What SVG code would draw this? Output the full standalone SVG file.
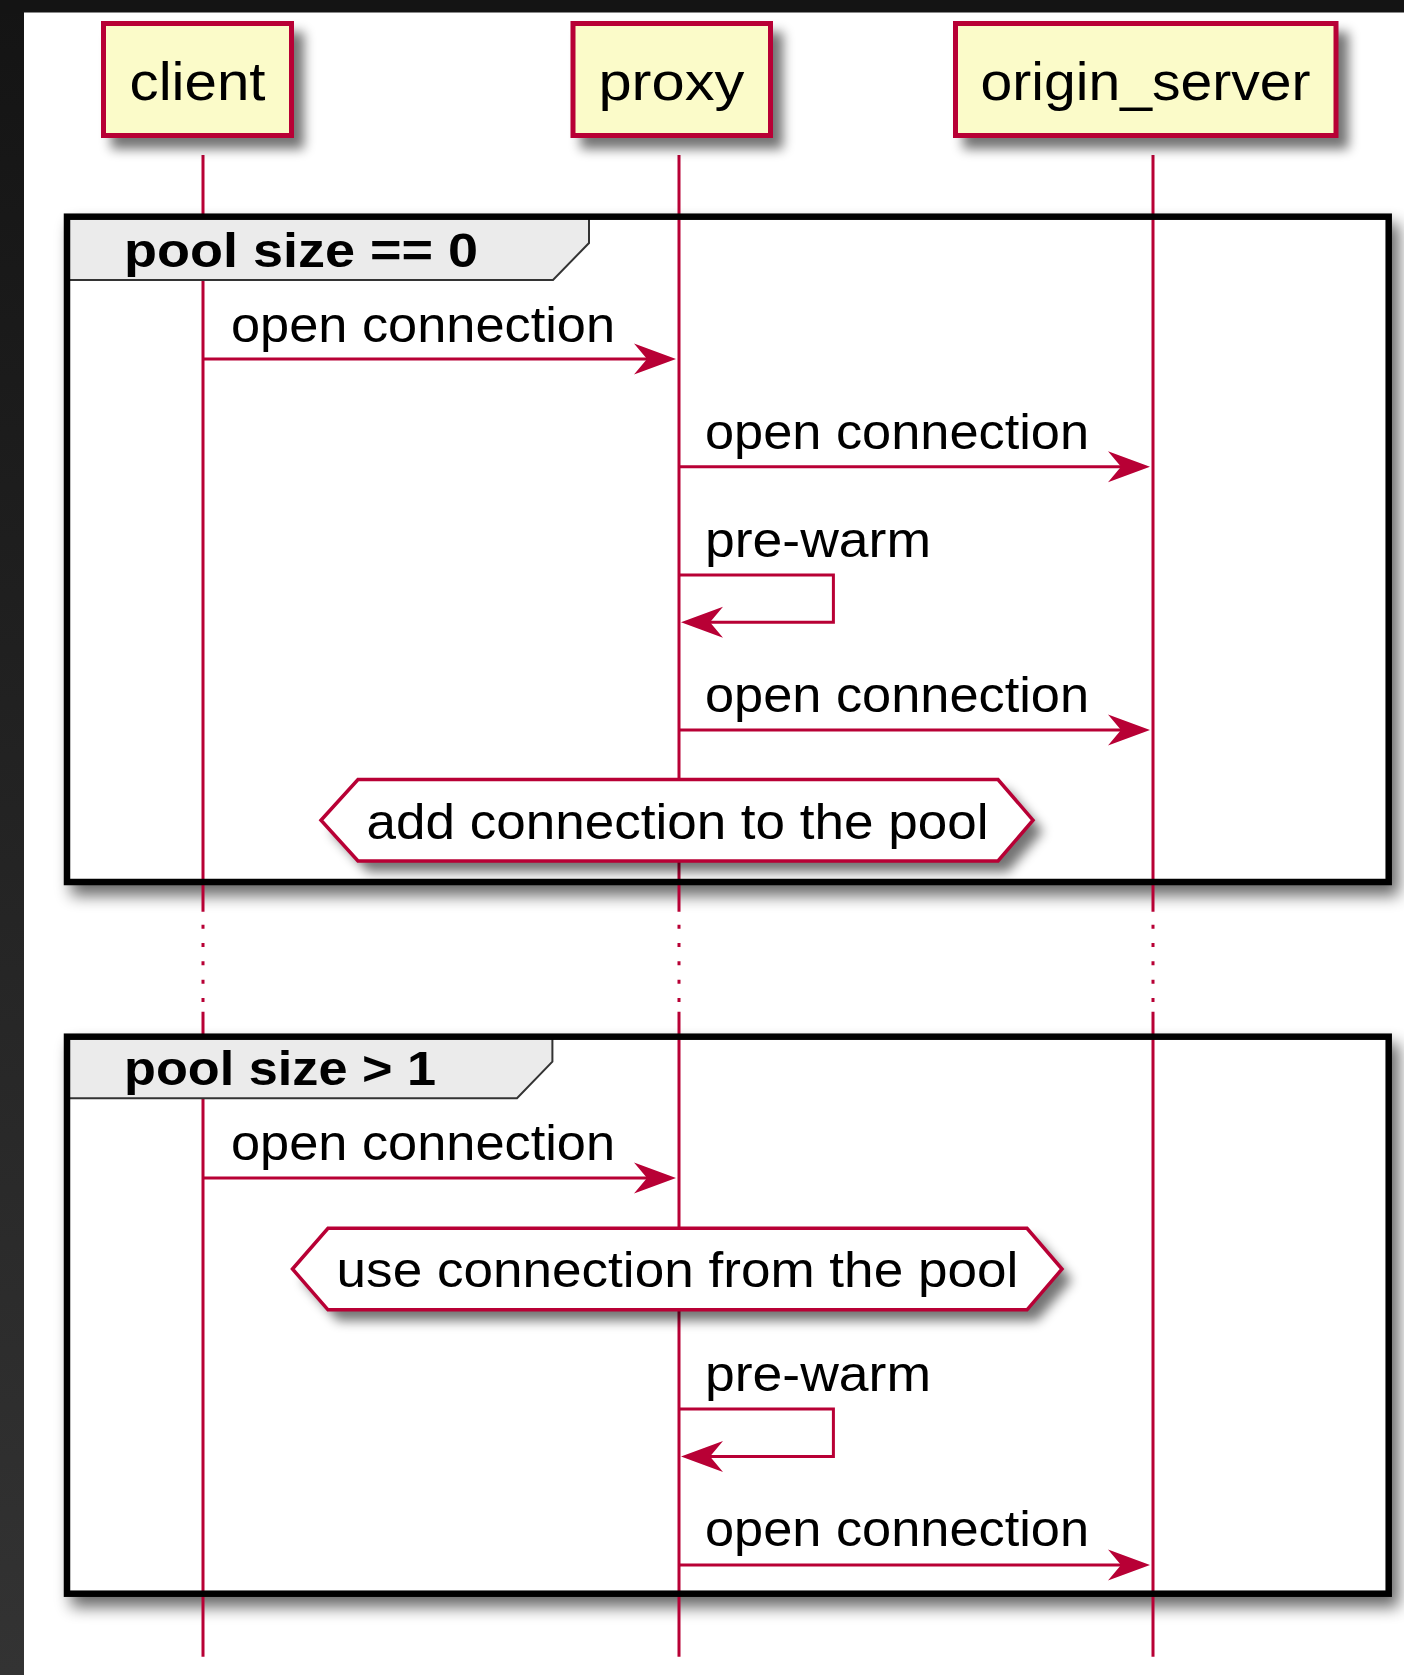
<svg xmlns="http://www.w3.org/2000/svg" width="1404" height="1675" viewBox="0 0 1404 1675">
  <defs>
    <linearGradient id="sideBar" x1="0" y1="0" x2="0" y2="1">
      <stop offset="0" stop-color="#141414"/>
      <stop offset="1" stop-color="#333333"/>
    </linearGradient>
    <filter id="boxShadow" x="-20%" y="-30%" width="150%" height="180%">
      <feGaussianBlur in="SourceAlpha" stdDeviation="6"/>
      <feOffset dx="10" dy="11" result="blur"/>
      <feComponentTransfer><feFuncA type="linear" slope="0.55"/></feComponentTransfer>
    </filter>
    <filter id="frameShadow" x="-5%" y="-5%" width="115%" height="125%">
      <feGaussianBlur in="SourceAlpha" stdDeviation="8"/>
      <feOffset dx="7" dy="10"/>
      <feComponentTransfer><feFuncA type="linear" slope="0.6"/></feComponentTransfer>
    </filter>
    <style>
      .bar { fill: url(#sideBar); }
      .topbar { fill: #141414; }
      .participant { fill: #FBFBC9; stroke: #B80035; stroke-width: 5; }
      .lifeline { stroke: #B80035; stroke-width: 3; fill: none; }
      .dotted { stroke: #B80035; stroke-width: 3; fill: none; stroke-dasharray: 4 14.33; }
      .frame { fill: none; stroke: #000000; stroke-width: 6.5; }
      .frame-bg { fill: #ffffff; }
      .tab { fill: #EBEBEB; stroke: #333333; stroke-width: 2; }
      .msg { stroke: #B80035; stroke-width: 3; fill: none; }
      .head { fill: #B80035; stroke: none; }
      .hex { fill: #ffffff; stroke: #B80035; stroke-width: 3.5; }
      .shadow { fill: #000000; }
      text { font-family: "Liberation Sans", Arial, Helvetica, sans-serif; fill: #000000; }
      .ptext { font-size: 53px; }
      .mtext { font-size: 50px; }
      .gtext { font-size: 49px; font-weight: bold; }
    </style>
  </defs>

  <!-- page background and window chrome -->
  <rect x="0" y="0" width="1404" height="1675" fill="#ffffff"/>
  <rect class="bar" x="0" y="0" width="24" height="1675"/>
  <rect class="topbar" x="0" y="0" width="1404" height="12.5"/>

  <!-- group frame shadows and backgrounds -->
  <g id="frame-shadows">
    <rect class="shadow" x="64" y="213.5" width="1328" height="672" filter="url(#frameShadow)"/>
    <rect class="frame-bg" x="67" y="216.7" width="1321.7" height="665.3"/>
    <rect class="shadow" x="64" y="1033.5" width="1328" height="563.5" filter="url(#frameShadow)"/>
    <rect class="frame-bg" x="67" y="1036.7" width="1321.7" height="557"/>
  </g>

  <!-- lifelines -->
  <g id="lifelines">
    <line class="lifeline" x1="203" y1="155" x2="203" y2="911.7"/>
    <line class="dotted" x1="203" y1="924.7" x2="203" y2="1003"/>
    <line class="lifeline" x1="203" y1="1011.7" x2="203" y2="1656.7"/>
    <line class="lifeline" x1="679" y1="155" x2="679" y2="911.7"/>
    <line class="dotted" x1="679" y1="924.7" x2="679" y2="1003"/>
    <line class="lifeline" x1="679" y1="1011.7" x2="679" y2="1656.7"/>
    <line class="lifeline" x1="1153" y1="155" x2="1153" y2="911.7"/>
    <line class="dotted" x1="1153" y1="924.7" x2="1153" y2="1003"/>
    <line class="lifeline" x1="1153" y1="1011.7" x2="1153" y2="1656.7"/>
  </g>

  <!-- participants -->
  <g id="client">
    <rect class="shadow" x="101" y="21" width="193" height="117" filter="url(#boxShadow)"/>
    <rect class="participant" x="103.5" y="23.5" width="188" height="112"/>
    <text class="ptext" x="129.5" y="100" textLength="136" lengthAdjust="spacingAndGlyphs">client</text>
  </g>
  <g id="proxy">
    <rect class="shadow" x="570.5" y="21" width="202.5" height="117" filter="url(#boxShadow)"/>
    <rect class="participant" x="573" y="23.5" width="197.5" height="112"/>
    <text class="ptext" x="598.4" y="100" textLength="146" lengthAdjust="spacingAndGlyphs">proxy</text>
  </g>
  <g id="origin_server">
    <rect class="shadow" x="953" y="21" width="385.5" height="117" filter="url(#boxShadow)"/>
    <rect class="participant" x="955.5" y="23.5" width="380.5" height="112"/>
    <text class="ptext" x="980.6" y="100" textLength="330" lengthAdjust="spacingAndGlyphs">origin_server</text>
  </g>

  <!-- group: pool size == 0 -->
  <g id="group-pool-empty">
    <polygon class="tab" points="67,216.7 589,216.7 589,243 553,280 67,280"/>
    <rect class="frame" x="67" y="216.7" width="1321.7" height="665.3"/>
    <text class="gtext" x="124" y="266.7" textLength="354" lengthAdjust="spacingAndGlyphs">pool size == 0</text>
  </g>

  <!-- group: pool size > 1 -->
  <g id="group-pool-filled">
    <polygon class="tab" points="67,1036.7 552.4,1036.7 552.4,1061.7 517,1098.3 67,1098.3"/>
    <rect class="frame" x="67" y="1036.7" width="1321.7" height="557"/>
    <text class="gtext" x="124" y="1085" textLength="312" lengthAdjust="spacingAndGlyphs">pool size &gt; 1</text>
  </g>

  <!-- messages -->
  <g id="connectors">
    <!-- client -> proxy -->
    <line class="msg" x1="203" y1="359" x2="650" y2="359"/>
    <polygon class="head" points="676,359 634,343.5 647,359 634,374.5"/>
    <text class="mtext" x="231" y="341.7" textLength="384" lengthAdjust="spacingAndGlyphs">open connection</text>

    <!-- proxy -> origin_server -->
    <line class="msg" x1="679" y1="466.7" x2="1124" y2="466.7"/>
    <polygon class="head" points="1150,466.7 1108,451.2 1121,466.7 1108,482.2"/>
    <text class="mtext" x="705" y="449" textLength="384" lengthAdjust="spacingAndGlyphs">open connection</text>

    <!-- proxy self call -->
    <path class="msg" d="M679,575 H833.4 V622.3 H708"/>
    <polygon class="head" points="681,622.3 723,606.8 710,622.3 723,637.8"/>
    <text class="mtext" x="705" y="556.7" textLength="226" lengthAdjust="spacingAndGlyphs">pre-warm</text>

    <!-- proxy -> origin_server -->
    <line class="msg" x1="679" y1="730" x2="1124" y2="730"/>
    <polygon class="head" points="1150,730 1108,714.5 1121,730 1108,745.5"/>
    <text class="mtext" x="705" y="712.3" textLength="384" lengthAdjust="spacingAndGlyphs">open connection</text>

    <!-- client -> proxy -->
    <line class="msg" x1="203" y1="1178" x2="650" y2="1178"/>
    <polygon class="head" points="676,1178 634,1162.5 647,1178 634,1193.5"/>
    <text class="mtext" x="231" y="1159.8" textLength="384" lengthAdjust="spacingAndGlyphs">open connection</text>

    <!-- proxy self call -->
    <path class="msg" d="M679,1409 H833.4 V1456.4 H708"/>
    <polygon class="head" points="681,1456.4 723,1440.9 710,1456.4 723,1471.9"/>
    <text class="mtext" x="705" y="1390.8" textLength="226" lengthAdjust="spacingAndGlyphs">pre-warm</text>

    <!-- proxy -> origin_server -->
    <line class="msg" x1="679" y1="1565" x2="1124" y2="1565"/>
    <polygon class="head" points="1150,1565 1108,1549.5 1121,1565 1108,1580.5"/>
    <text class="mtext" x="705" y="1545.5" textLength="384" lengthAdjust="spacingAndGlyphs">open connection</text>
  </g>

  <!-- hexagon notes over proxy -->
  <g id="note-add">
    <polygon class="shadow" points="321,820.2 358,779.5 998,779.5 1033,820.2 998,861 358,861" filter="url(#boxShadow)"/>
    <polygon class="hex" points="321,820.2 358,779.5 998,779.5 1033,820.2 998,861 358,861"/>
    <text class="mtext" x="366.5" y="839" textLength="622" lengthAdjust="spacingAndGlyphs">add connection to the pool</text>
  </g>
  <g id="note-use">
    <polygon class="shadow" points="292.5,1269 328,1228.3 1027,1228.3 1062,1269 1027,1309.8 328,1309.8" filter="url(#boxShadow)"/>
    <polygon class="hex" points="292.5,1269 328,1228.3 1027,1228.3 1062,1269 1027,1309.8 328,1309.8"/>
    <text class="mtext" x="336.6" y="1287" textLength="681.7" lengthAdjust="spacingAndGlyphs">use connection from the pool</text>
  </g>
</svg>
